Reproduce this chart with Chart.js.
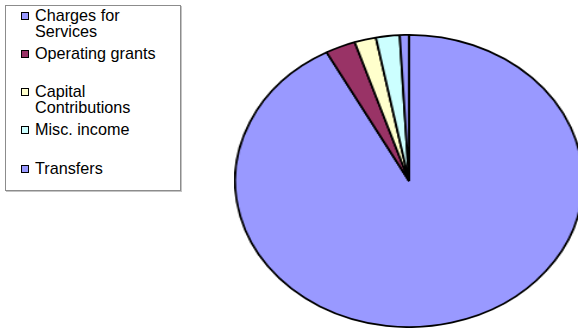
<!DOCTYPE html>
<html>
<head>
<meta charset="utf-8">
<script src="https://cdn.jsdelivr.net/npm/chart.js@4/dist/chart.umd.min.js"></script>
<style>
  html, body { margin: 0; padding: 0; background: #fff; }
  body { width: 578px; height: 329px; position: relative; overflow: hidden; font-family: "Liberation Sans", Arial, sans-serif; }
  #legend { position: absolute; left: 5px; top: 5px; width: 176px; height: 186px; border: 1px solid #8c8c8c; box-shadow: 1px 1px 0 #c4c4c4; box-sizing: border-box; }
  .item { position: absolute; left: 0; height: 38px; }
  .mark { position: absolute; left: 15px; top: 5px; width: 8px; height: 8px; border: 1.5px solid #000; box-sizing: border-box; }
  .txt { position: absolute; left: 29px; top: 0; font-size: 16.2px; line-height: 16px; color: #000; white-space: nowrap; }
  #pieWrap { position: absolute; left: 262px; top: 34px; width: 294px; height: 294px; transform: scaleX(1.19); transform-origin: 147px 147px; }
</style>
</head>
<body>
<div id="legend"></div>
<div id="pieWrap"><canvas id="pie" width="294" height="294"></canvas></div>
<script>
// revenue sources, share of total (%)
const categories = ['Charges for Services', 'Operating grants', 'Capital Contributions', 'Misc. income', 'Transfers'];
const legendLines = [['Charges for', 'Services'], ['Operating grants'], ['Capital', 'Contributions'], ['Misc. income'], ['Transfers']];
const values = [92.1, 2.8, 2.0, 2.2, 0.85];
const colors = ['#9999FF', '#993366', '#FFFFCC', '#CCFFFF', '#9999FF'];

// legend, Excel style: equal slots, text top-aligned
const legendEl = document.getElementById('legend');
legendLines.forEach((lines, i) => {
    const item = document.createElement('div');
    item.className = 'item';
    item.style.top = (0.5 + i * 38.3) + 'px';
    const mark = document.createElement('div');
    mark.className = 'mark';
    mark.style.background = colors[i];
    const txt = document.createElement('div');
    txt.className = 'txt';
    txt.innerHTML = lines.join('<br>');
    item.appendChild(mark);
    item.appendChild(txt);
    legendEl.appendChild(item);
});

new Chart(document.getElementById('pie'), {
    type: 'pie',
    data: {
        labels: categories,
        datasets: [{
            data: values,
            backgroundColor: colors,
            borderColor: '#000',
            borderWidth: 1.8
        }]
    },
    options: {
        responsive: false,
        animation: false,
        layout: { padding: 0 },
        plugins: {
            legend: { display: false },
            tooltip: { enabled: false }
        }
    }
});
</script>
</body>
</html>
